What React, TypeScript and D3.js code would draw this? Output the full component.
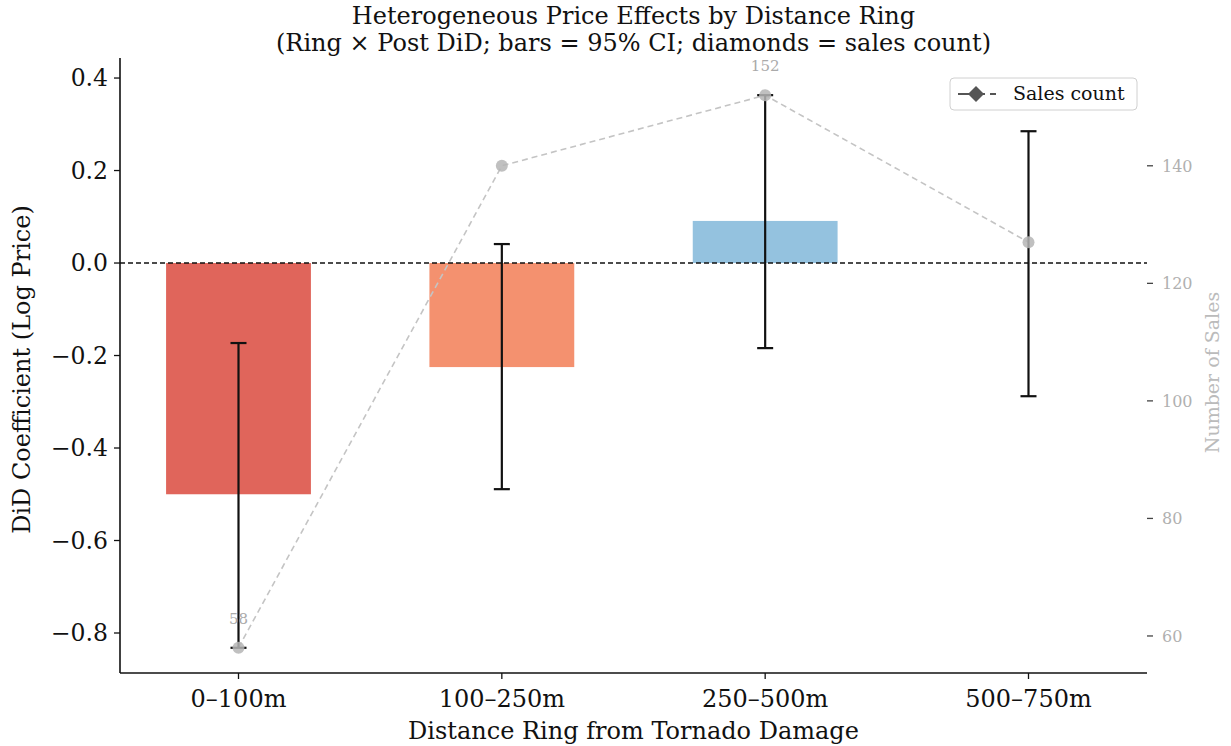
import React from "react";
import * as d3 from "d3";

const categories = ["0–100m", "100–250m", "250–500m", "500–750m"];
const coefficients = [-0.5, -0.225, 0.091, -0.002];
const ciLow = [-0.832, -0.489, -0.184, -0.288];
const ciHigh = [-0.173, 0.041, 0.363, 0.285];
const salesCount = [58, 140, 152, 127];
const barColors = ["#e0655b", "#f4916f", "#94c2df", "#f4f4f4"];
const leftTicks = [-0.8, -0.6, -0.4, -0.2, 0.0, 0.2, 0.4];
const rightTicks = [60, 80, 100, 120, 140];
const annotatedIdx = [0, 2];

const W = 1231;
const H = 746;
const L = 120, R = 1147, T = 60, B = 673;
const FONT = "'DejaVu Serif', serif";

export default function App() {
  const x = d3.scaleBand<string>().domain(categories).range([L, R]).paddingInner(0.45).paddingOuter(0.175);
  const y = d3.scaleLinear().domain([-0.8865, 0.439]).range([B, T]);
  const y2 = d3.scaleLinear().domain([53.7, 158.0]).range([B, T]);
  const fmt = (v: number) => d3.format(".1f")(v).replace("-", "−");
  const cx = (i: number) => (x(categories[i]) as number) + x.bandwidth() / 2;
  const line = d3.line<number>().x((_, i) => cx(i)).y((d) => y2(d));

  return (
    <svg width={W} height={H} style={{ position: "absolute", left: 0, top: 0, background: "#fff" }} fontFamily={FONT}>
      {/* title */}
      <text x={(L + R) / 2} y={24} textAnchor="middle" fontSize={24} fill="#111">Heterogeneous Price Effects by Distance Ring</text>
      <text x={(L + R) / 2} y={51} textAnchor="middle" fontSize={24} fill="#111">(Ring × Post DiD; bars = 95% CI; diamonds = sales count)</text>

      {/* bars */}
      {coefficients.map((v, i) => (
        <rect key={"b" + i} x={x(categories[i])} width={x.bandwidth()} y={Math.min(y(v), y(0))} height={Math.abs(y(v) - y(0))} fill={barColors[i]} />
      ))}

      {/* zero line */}
      <line x1={L} x2={R} y1={y(0)} y2={y(0)} stroke="#111" strokeWidth={1.4} strokeDasharray="5,3" />

      {/* sales line */}
      <path d={line(salesCount) as string} fill="none" stroke="#c4c4c4" strokeWidth={1.6} strokeDasharray="6,4" />

      {/* error bars */}
      {categories.map((c, i) => (
        <g key={"e" + i} stroke="#111" strokeWidth={2.2}>
          <line x1={cx(i)} x2={cx(i)} y1={y(ciLow[i])} y2={y(ciHigh[i])} />
          <line x1={cx(i) - 8} x2={cx(i) + 8} y1={y(ciLow[i])} y2={y(ciLow[i])} />
          <line x1={cx(i) - 8} x2={cx(i) + 8} y1={y(ciHigh[i])} y2={y(ciHigh[i])} />
        </g>
      ))}

      {/* sales markers */}
      {salesCount.map((v, i) => (
        <circle key={"m" + i} cx={cx(i)} cy={y2(v)} r={6} fill="#b5b5b5" fillOpacity={0.85} />
      ))}
      {annotatedIdx.map((i) => (
        <text key={"a" + i} x={cx(i)} y={y2(salesCount[i]) - 24} textAnchor="middle" fontSize={15} fill="#aaaaaa">{salesCount[i]}</text>
      ))}

      {/* left axis */}
      <line x1={L} x2={L} y1={T - 2} y2={B} stroke="#111" strokeWidth={1.6} />
      {leftTicks.map((t) => (
        <g key={"lt" + t}>
          <line x1={L - 6} x2={L} y1={y(t)} y2={y(t)} stroke="#111" strokeWidth={1.3} />
          <text x={L - 12} y={y(t)} dy="0.36em" textAnchor="end" fontSize={23.5} fill="#111">{fmt(t)}</text>
        </g>
      ))}
      <text transform={`translate(30,${(T + B) / 2 + 3}) rotate(-90)`} textAnchor="middle" fontSize={24} fill="#111">DiD Coefficient (Log Price)</text>

      {/* bottom axis */}
      <line x1={L} x2={R} y1={B} y2={B} stroke="#111" strokeWidth={1.6} />
      {categories.map((c, i) => (
        <g key={"xt" + i}>
          <line x1={cx(i)} x2={cx(i)} y1={B} y2={B + 6} stroke="#111" strokeWidth={1.3} />
          <text x={cx(i)} y={B + 34} textAnchor="middle" fontSize={24} fill="#111">{c}</text>
        </g>
      ))}
      <text x={(L + R) / 2} y={739} textAnchor="middle" fontSize={24} fill="#111">Distance Ring from Tornado Damage</text>

      {/* right axis */}
      {rightTicks.map((t) => (
        <g key={"rt" + t}>
          <line x1={R} x2={R + 6} y1={y2(t)} y2={y2(t)} stroke="#444" strokeWidth={1.3} />
          <text x={R + 15} y={y2(t)} dy="0.36em" textAnchor="start" fontSize={16} fill="#b0b0b0">{t}</text>
        </g>
      ))}
      <text transform={`translate(1219,${(T + B) / 2 + 6}) rotate(-90)`} textAnchor="middle" fontSize={19} fill="#bbbbbb">Number of Sales</text>

      {/* legend */}
      <g>
        <rect x={950} y={78} width={187} height={32} rx={4} fill="#fff" fillOpacity={0.9} stroke="#d0d0d0" strokeWidth={1} />
        <line x1={958} x2={996} y1={94} y2={94} stroke="#555" strokeWidth={2.2} strokeDasharray="11,5" />
        <path d="M0,-8L8,0L0,8L-8,0Z" transform="translate(976,94)" fill="#555" />
        <text x={1013} y={100} fontSize={19} fill="#111">Sales count</text>
      </g>
    </svg>
  );
}
